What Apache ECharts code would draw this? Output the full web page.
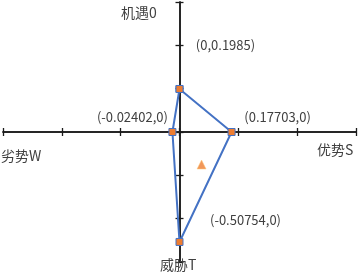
<!DOCTYPE html>
<html>
<head>
<meta charset="utf-8">
<script src="https://cdn.jsdelivr.net/npm/echarts@6/dist/echarts.min.js"></script>
<style>html,body{margin:0;padding:0;background:#fff}#c{width:359px;height:273px}</style>
</head>
<body>
<div id="c"></div>
<script>
// Data
const pointX = [0, 0.17703, 0, -0.02402, 0];
const pointY = [0.1985, 0, -0.50754, 0, 0.1985];
const pointLabels = ['(0,0.1985)', '(0.17703,0)', '(-0.50754,0)', '(-0.02402,0)', ''];
const centerX = [0.075];
const centerY = [-0.15];
const axisNames = ['机遇0', '优势S', '劣势W', '威胁T'];
const axisMin = -0.6, axisMax = 0.6, axisStep = 0.2;

const labelOffsets = [[46, -44], [46, -15], [66, -22], [-40, -15], [0, 0]];
const txt = '#404040';
const font = '"Noto Sans CJK SC", "Noto Sans", sans-serif';

const chart = echarts.init(document.getElementById('c'));
const axLine = { onZero: true, lineStyle: { color: '#1a1a1a', width: 1.5 } };
function xAx(pos) {
  return { type: 'value', position: pos, min: axisMin, max: axisMax, interval: axisStep,
    axisLine: axLine, axisTick: { show: true, length: 4, lineStyle: { color: '#1a1a1a', width: 1.3 } },
    axisLabel: { show: false }, splitLine: { show: false } };
}
const data = pointX.map((x, i) => ({
  value: [x, pointY[i]],
  label: { show: pointLabels[i] !== '', formatter: pointLabels[i], position: 'inside', offset: labelOffsets[i],
    color: txt, fontSize: 13, fontFamily: font }
}));
chart.setOption({
  animation: false,
  grid: { left: 3, right: 3, top: 2, bottom: 11, containLabel: false },
  xAxis: [xAx('bottom'), xAx('top')],
  yAxis: [xAx('left'), xAx('right')],
  series: [
    { type: 'line', xAxisIndex: 0, yAxisIndex: 0, data: data, symbol: 'rect', symbolSize: 7,
      lineStyle: { color: '#4472C4', width: 2 },
      itemStyle: { color: '#ED7D31', borderColor: '#4472C4', borderWidth: 1 }, z: 3 },
    { type: 'scatter', xAxisIndex: 0, yAxisIndex: 0, data: centerX.map((x, i) => [x, centerY[i]]),
      symbol: 'triangle', symbolSize: 9,
      itemStyle: { color: '#ED7D31', borderColor: 'rgba(255,200,120,0.6)', borderWidth: 1 } }
  ],
  graphic: [
    { type: 'text', left: 121, top: 6, style: { text: axisNames[0], fill: txt, font: '14px ' + font } },
    { type: 'text', left: 317, top: 143, style: { text: axisNames[1], fill: txt, font: '14px ' + font } },
    { type: 'text', left: 1, top: 149, style: { text: axisNames[2], fill: txt, font: '14px ' + font } },
    { type: 'text', left: 160, top: 258, z: 10, style: { text: axisNames[3], fill: txt, font: '14px ' + font } }
  ]
});
</script>
</body>
</html>
